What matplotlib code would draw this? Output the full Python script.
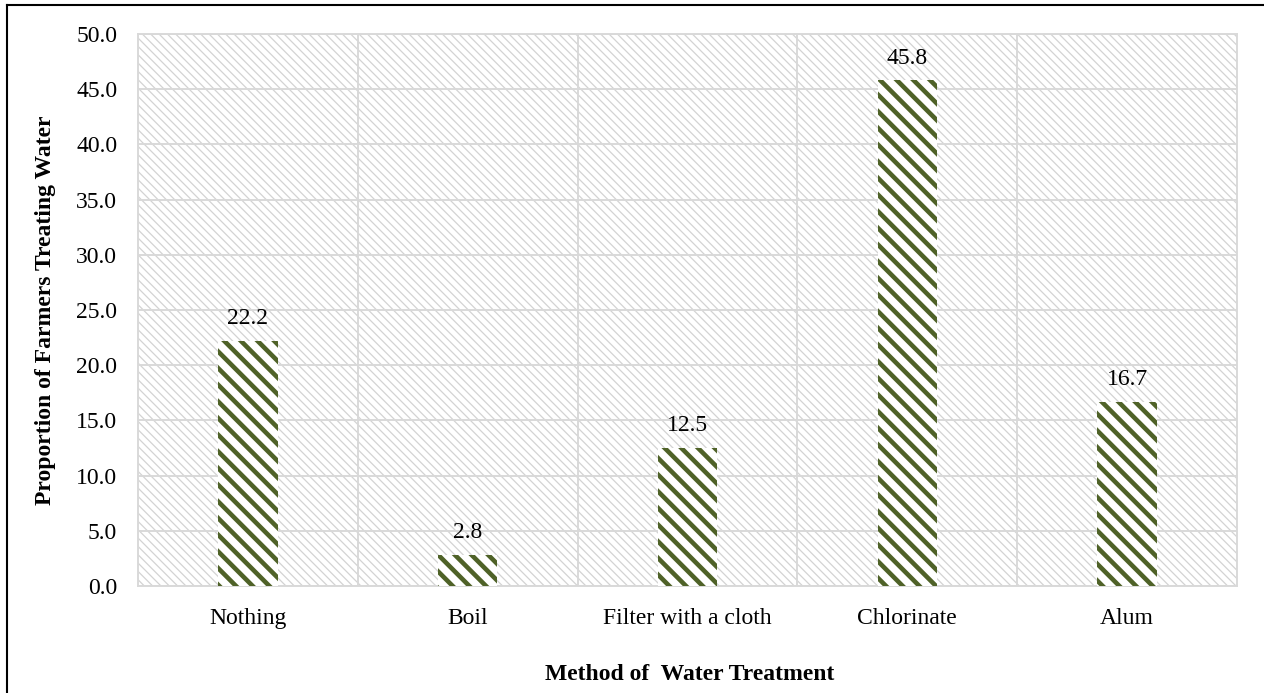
import matplotlib
matplotlib.use("Agg")
import matplotlib.pyplot as plt
from matplotlib.patches import Rectangle
from matplotlib.lines import Line2D

categories = ["Nothing", "Boil", "Filter with a cloth", "Chlorinate", "Alum"]
values = [22.2, 2.8, 12.5, 45.8, 16.7]
yticks = [0, 5, 10, 15, 20, 25, 30, 35, 40, 45, 50]

plt.rcParams["font.family"] = ["Liberation Serif", "DejaVu Serif"]

BAR_COLOR = "#4F6228"
GRID_COLOR = "#D9D9D9"
FS = 17

fig = plt.figure(figsize=(12.64, 6.93), dpi=100)
ax = fig.add_axes([0.1092, 0.1544, 0.8694, 0.7965])
ax.set_facecolor("white")

# hatched plot-area background
bg = Rectangle((0, 0), 1, 1, transform=ax.transAxes, facecolor="white",
               edgecolor="#D3D3D3", linewidth=0, hatch="\\\\\\\\", zorder=0)
if hasattr(bg, "set_hatch_linewidth"):
    bg.set_hatch_linewidth(0.9)
ax.add_patch(bg)

x = list(range(len(categories)))
with plt.rc_context({"hatch.linewidth": 3.3}):
    bars = ax.bar(x, values, width=0.27, color="white", edgecolor=BAR_COLOR,
                  linewidth=0, hatch="\\\\", zorder=3)
for b in bars:
    if hasattr(b, "set_hatch_linewidth"):
        b.set_hatch_linewidth(3.3)

for xi, v in zip(x, values):
    ax.annotate(f"{v:.1f}", (xi, v), xytext=(0, 8.5), textcoords="offset points",
                ha="center", va="bottom", fontsize=FS, color="#000000", zorder=4)

ax.set_xlim(-0.5, len(categories) - 0.5)
ax.set_ylim(0, 50)
ax.set_yticks(yticks)
ax.set_yticklabels([f"{t:.1f}" for t in yticks], fontsize=FS)
ax.set_xticks(x)
ax.set_xticklabels(categories, fontsize=FS)
ax.tick_params(length=0)
ax.tick_params(axis="y", pad=15)
ax.tick_params(axis="x", pad=16)

# gridlines: horizontal at ticks, vertical at category boundaries
for t in yticks:
    ax.axhline(t, color=GRID_COLOR, linewidth=1.4, zorder=1)
for b in range(1, len(categories)):
    ax.axvline(b - 0.5, color=GRID_COLOR, linewidth=1.4, zorder=1)

for s in ax.spines.values():
    s.set_color(GRID_COLOR)
    s.set_linewidth(1.4)

ax.set_ylabel("Proportion of Farmers Treating Water", fontsize=FS,
              fontweight="bold")
ax.yaxis.set_label_coords(-0.075, 0.5)
fig.text(0.546, 0.027, "Method of  Water Treatment", ha="center", va="center",
         fontsize=FS, fontweight="bold")

# outer frame on the top and left edges
fig.add_artist(Line2D([0.0055, 0.0055], [0, 0.9935], transform=fig.transFigure,
                      color="black", linewidth=1.5))
fig.add_artist(Line2D([0.0055, 1.0], [0.9935, 0.9935], transform=fig.transFigure,
                      color="black", linewidth=1.5))

fig.savefig("out.png", dpi=100)
